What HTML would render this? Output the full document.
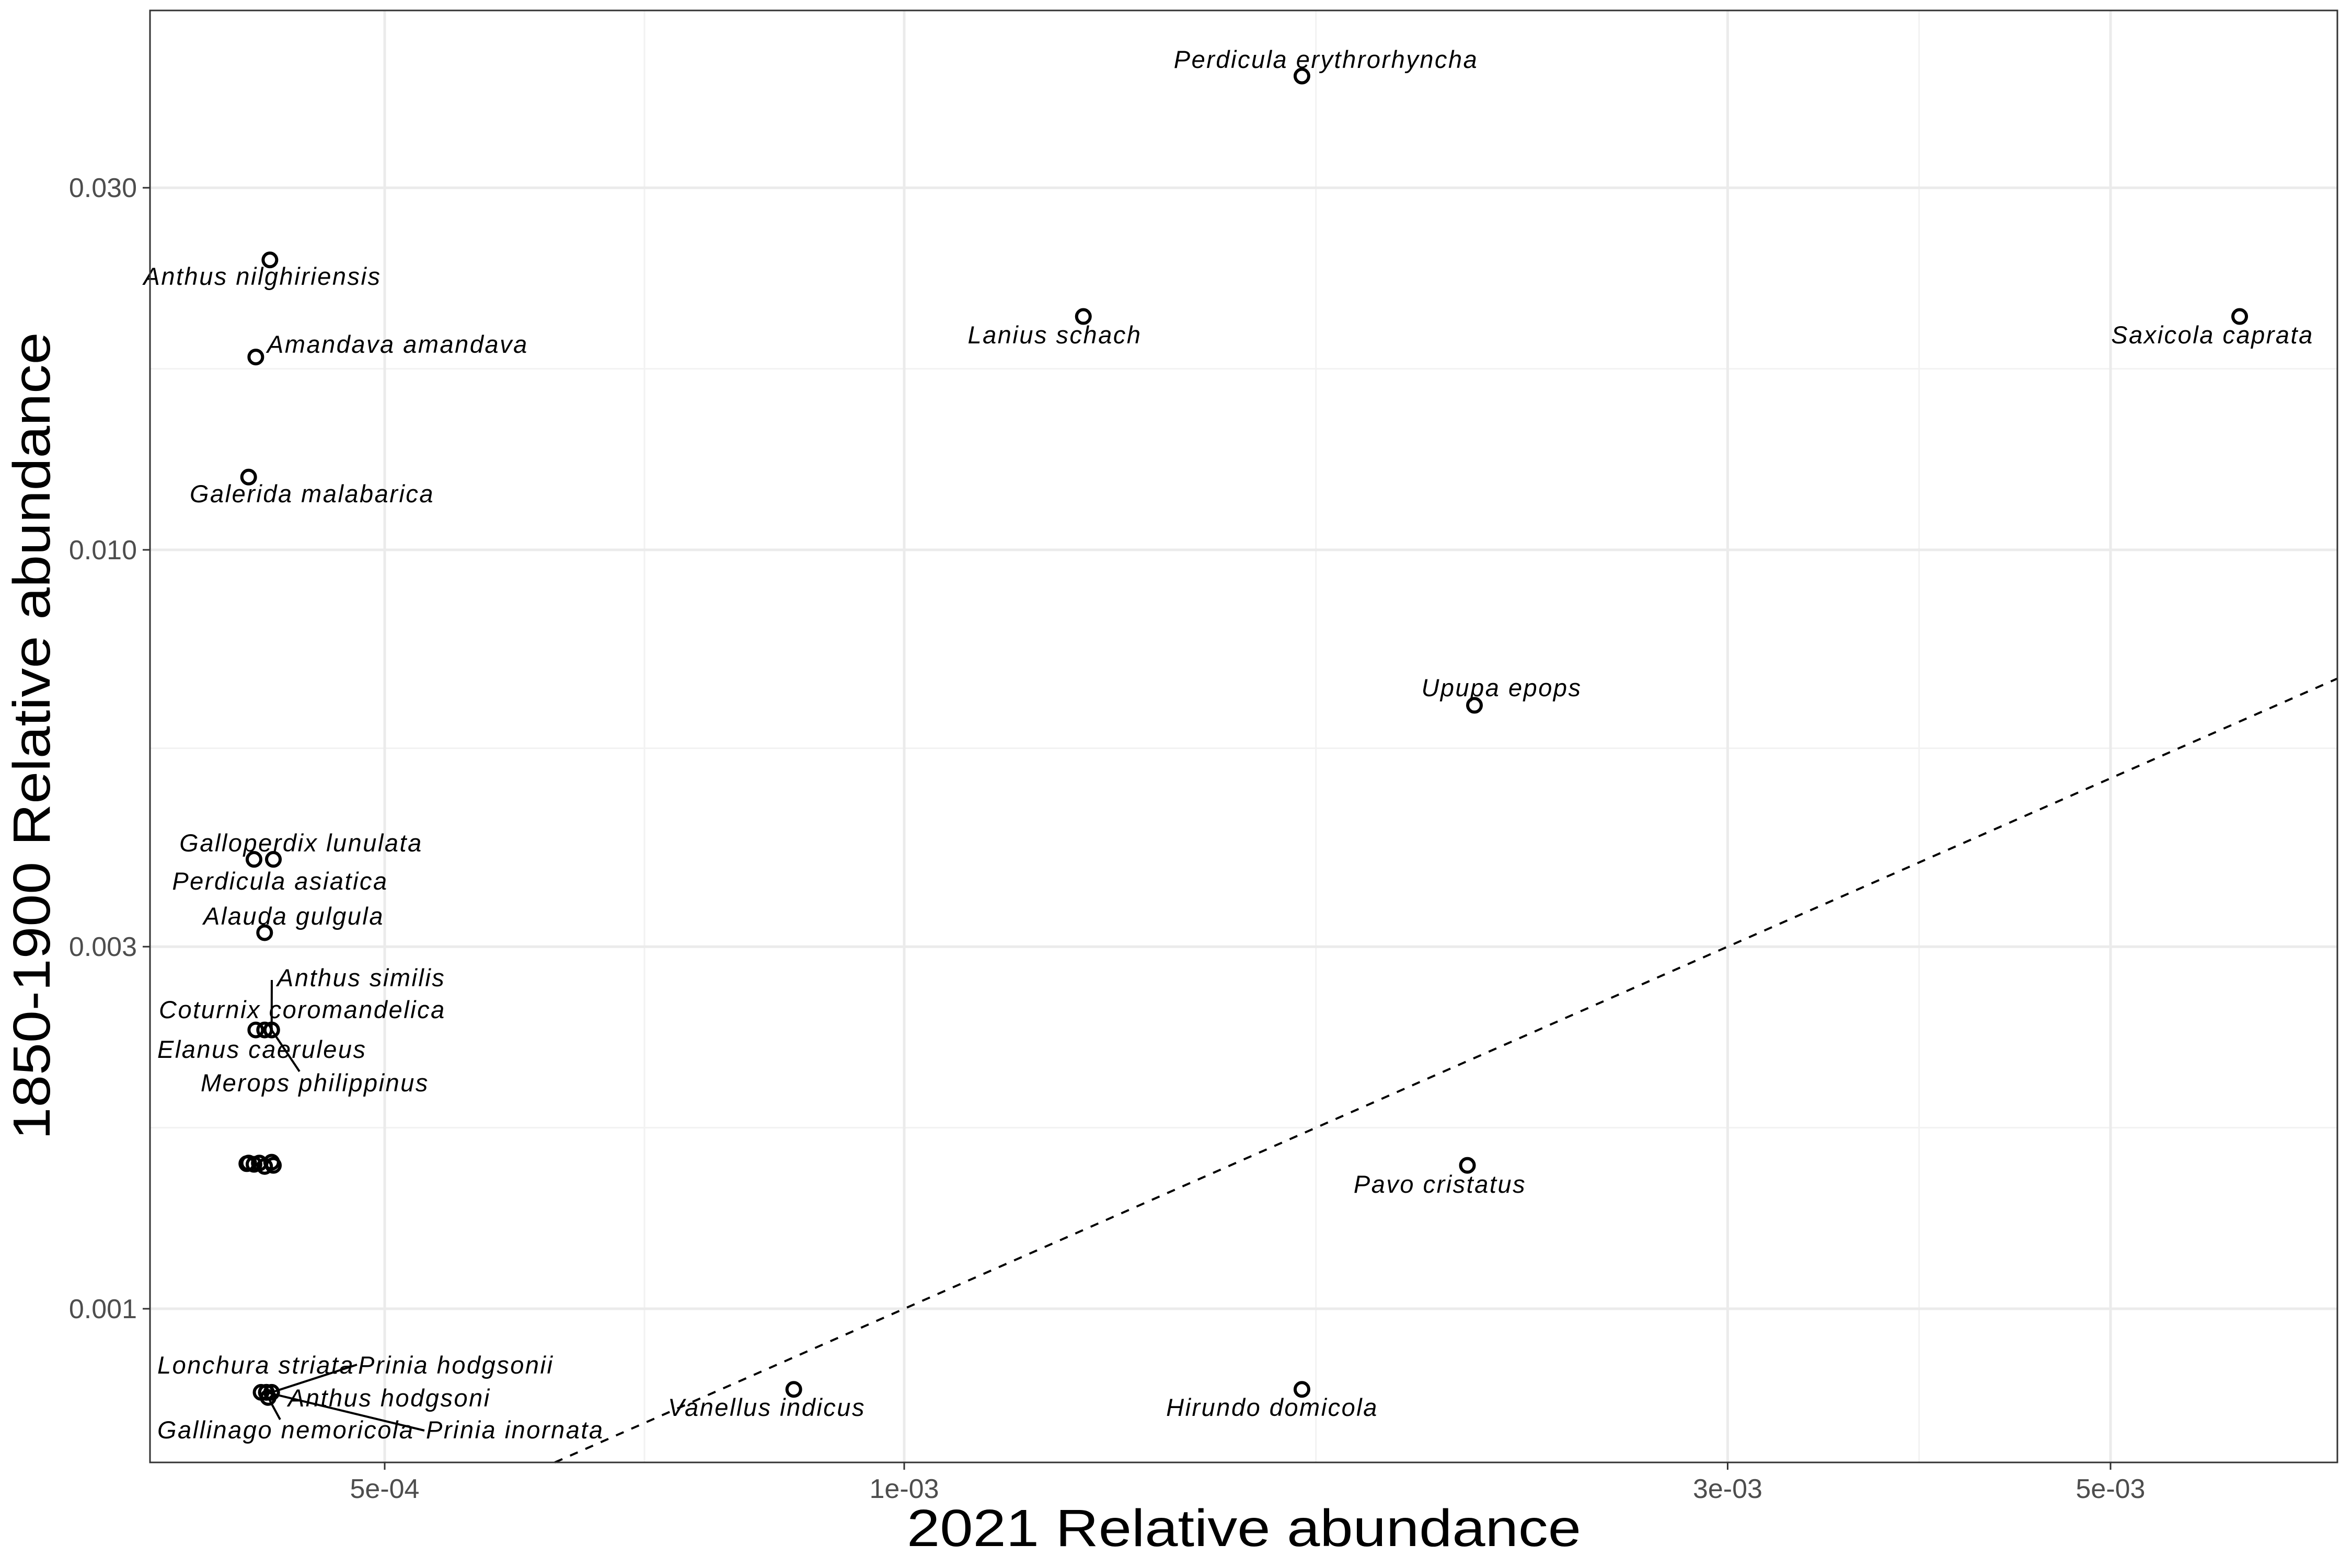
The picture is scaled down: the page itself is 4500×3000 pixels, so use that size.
<!DOCTYPE html>
<html><head><meta charset="utf-8"><style>
html,body{margin:0;padding:0;background:#fff}
svg{display:block}
text{font-family:"Liberation Sans",sans-serif}
</style></head><body>
<svg id="chart" width="4500" height="3000" viewBox="0 0 4500 3000">
<rect x="0" y="0" width="4500" height="3000" fill="#fff"/>
<g id="grid"></g>
<g id="refline"></g>
<g id="leaders"></g>
<g id="points"></g>
<g id="labels"></g>
<rect x="287" y="20" width="4185" height="2778" fill="none" stroke="#333" stroke-width="3"/>
<g id="axes"></g>
<text x="2380" y="2958" text-anchor="middle" font-size="100" fill="#000" textLength="1290" lengthAdjust="spacingAndGlyphs">2021 Relative abundance</text>
<text x="0" y="0" transform="translate(95,1408) rotate(-90)" text-anchor="middle" font-size="100" fill="#000" textLength="1545" lengthAdjust="spacingAndGlyphs">1850-1900 Relative abundance</text>
</svg>
<script>
const species = ["Perdicula erythrorhyncha","Anthus nilghiriensis","Amandava amandava","Galerida malabarica","Lanius schach","Saxicola caprata","Upupa epops","Pavo cristatus","Hirundo domicola","Vanellus indicus","Galloperdix lunulata","Perdicula asiatica","Alauda gulgula","Anthus similis","Coturnix coromandelica","Elanus caeruleus","Merops philippinus","Lonchura striata","Prinia hodgsonii","Anthus hodgsoni","Gallinago nemoricola","Prinia inornata","","","","","","",""];
const x2021 = [1.70e-3,4.29e-4,4.21e-4,4.17e-4,1.27e-3,5.94e-3,2.14e-3,2.12e-3,1.70e-3,8.63e-4,4.31e-4,4.20e-4,4.26e-4,4.30e-4,4.21e-4,4.26e-4,4.30e-4,4.24e-4,4.30e-4,4.27e-4,4.28e-4,4.27e-4,4.17e-4,4.20e-4,4.23e-4,4.26e-4,4.30e-4,4.31e-4,4.16e-4];
const y1850 = [0.0421,0.0241,0.01795,0.01247,0.0203,0.0203,0.00624,0.001545,0.000783,0.000783,0.00391,0.00391,0.00313,0.00233,0.00233,0.00233,0.00233,0.000776,0.000776,0.000776,0.000764,0.000776,0.001556,0.001550,0.001556,0.001540,0.001560,0.001545,0.001553];
const xTicks = [5e-4,1e-3,3e-3,5e-3];
const xTickLabels = ["5e-04","1e-03","3e-03","5e-03"];
const yTicks = [0.001,0.003,0.01,0.03];
const yTickLabels = ["0.001","0.003","0.010","0.030"];

const X = v => 1730 + 3302*Math.log10(v/1e-3);
const Y = v => 2504 - 1452*Math.log10(v/1e-3);
const NS="http://www.w3.org/2000/svg";
function mk(tag, attrs, parent){const e=document.createElementNS(NS,tag);for(const k in attrs)e.setAttribute(k,attrs[k]);parent.appendChild(e);return e;}
const grid=document.getElementById('grid'),axes=document.getElementById('axes');
const L=287,R=4472,T=20,B=2798;
const xm=[Math.sqrt(5e-4*1e-3),Math.sqrt(1e-3*3e-3),Math.sqrt(3e-3*5e-3)];
xm.forEach(v=>{const l=mk('line',{x1:X(v),x2:X(v),y1:T,y2:B,stroke:'#f2f2f2','stroke-width':3},grid);

});
const ym=[Math.sqrt(0.001*0.003),Math.sqrt(0.003*0.01),Math.sqrt(0.01*0.03)];
ym.forEach(v=>{const l=mk('line',{x1:L,x2:R,y1:Y(v),y2:Y(v),stroke:'#f2f2f2','stroke-width':3},grid);

});
xTicks.forEach((v,i)=>{const l=mk('line',{x1:X(v),x2:X(v),y1:T,y2:B,stroke:'#ebebeb','stroke-width':5},grid);


const t=mk('line',{x1:X(v),x2:X(v),y1:B,y2:B+14,stroke:'#333','stroke-width':3},axes);


const tx=mk('text',{x:X(v),y:2866,'text-anchor':'middle','font-size':52,fill:'#4d4d4d'},axes);tx.textContent=xTickLabels[i];

});
yTicks.forEach((v,i)=>{const l=mk('line',{x1:L,x2:R,y1:Y(v),y2:Y(v),stroke:'#ebebeb','stroke-width':5},grid);


const t=mk('line',{x1:L-14,x2:L,y1:Y(v),y2:Y(v),stroke:'#333','stroke-width':3},axes);


const tx=mk('text',{x:262,y:Y(v)+18,'text-anchor':'end','font-size':52,fill:'#4d4d4d'},axes);tx.textContent=yTickLabels[i];

});
const ref=document.getElementById('refline');
const x0=Math.pow(10,(2504-B)/1452)*1e-3; const x1v=Math.pow(10,(R-1730)/3302)*1e-3;
const dl=mk('line',{x1:X(x0),y1:Y(x0),x2:R,y2:Y(x1v),stroke:'#000','stroke-width':4,'stroke-dasharray':'16 16'},ref);


const pg=document.getElementById('points');
x2021.forEach((v,i)=>{const c=mk('circle',{cx:X(v),cy:Y(y1850[i]),r:13,fill:'none',stroke:'#000','stroke-width':6},pg);

});
const lab=[[0,2537,130,'middle'],[1,502,545,'middle'],[2,511,675,'start'],[3,597,961,'middle'],[4,2018,657,'middle'],[5,4233,657,'middle'],[6,2873,1332,'middle'],[7,2755,2282,'middle'],[8,2434,2709,'middle'],[9,1467,2709,'middle'],[10,576,1629,'middle'],[11,536,1702,'middle'],[12,562,1769,'middle'],[13,530,1887,'start'],[14,304,1948,'start'],[15,301,2024,'start'],[16,384,2088,'start'],[17,301,2628,'start'],[18,685,2628,'start'],[19,551,2691,'start'],[20,301,2752,'start'],[21,815,2752,'start']];
const lg=document.getElementById('labels');
lab.forEach(a=>{const t=mk('text',{x:a[1],y:a[2],'text-anchor':a[3],'font-size':47,'letter-spacing':2.5,'font-style':'italic',fill:'#000'},lg);t.textContent=species[a[0]];

});
const lead=[[13,520,1875],[16,573,2050],[18,683,2611],[20,536,2716],[21,812,2737]];
const ldg=document.getElementById('leaders');
lead.forEach(a=>{const i=a[0];const s=mk('line',{x1:X(x2021[i]),y1:Y(y1850[i]),x2:a[1],y2:a[2],stroke:'#000','stroke-width':4},ldg);

});
</script>
</body></html>
